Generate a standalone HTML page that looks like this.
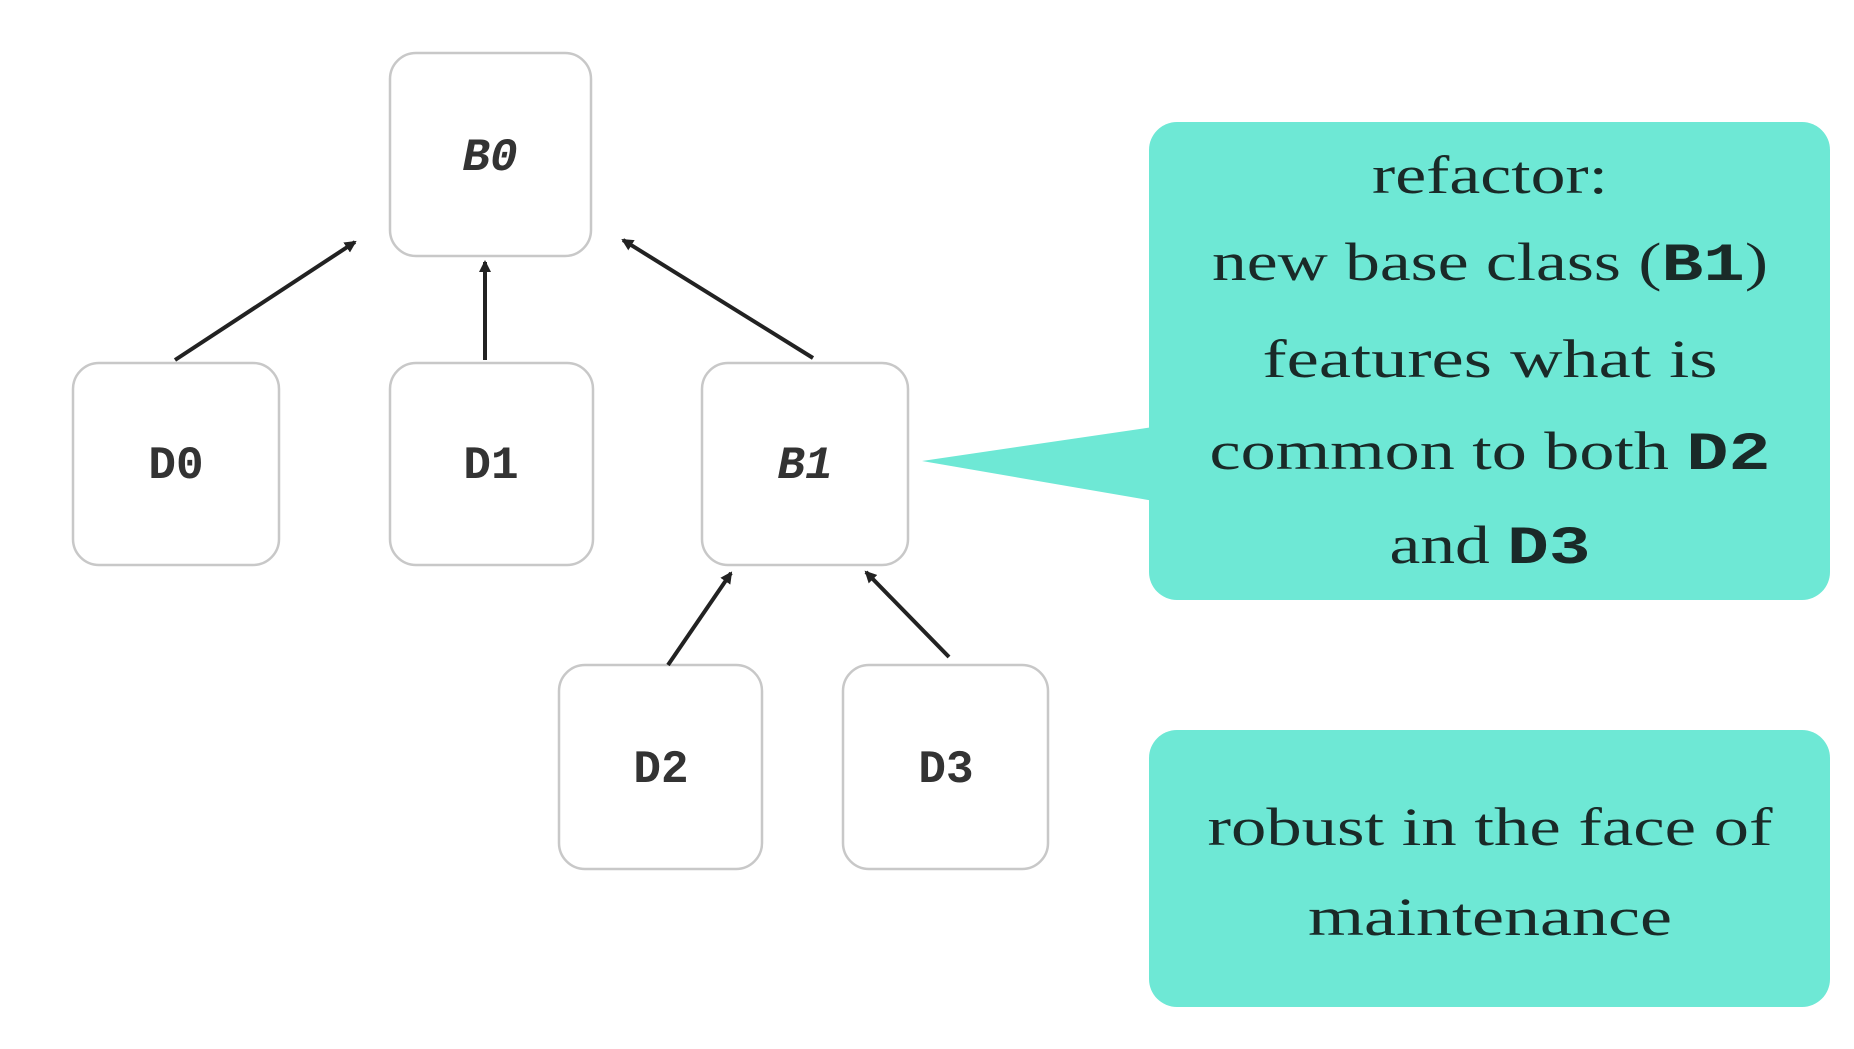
<!DOCTYPE html>
<html><head><meta charset="utf-8"><style>
body{margin:0;background:#fff;width:1854px;height:1044px;overflow:hidden}
</style></head><body>
<svg width="1854" height="1044" viewBox="0 0 1854 1044" xmlns="http://www.w3.org/2000/svg">
<defs><marker id="a" markerWidth="12" markerHeight="12" refX="10" refY="6" orient="auto" markerUnits="userSpaceOnUse"><path d="M0,0 L12,6 L0,12 z" fill="#222"/></marker></defs>
<g fill="#fff" stroke="#c8c8c8" stroke-width="2.5">
<rect x="390" y="53" width="201" height="203" rx="26"/>
<rect x="73" y="363" width="206" height="202" rx="26"/>
<rect x="390" y="363" width="203" height="202" rx="26"/>
<rect x="702" y="363" width="206" height="202" rx="26"/>
<rect x="559" y="665" width="203" height="204" rx="26"/>
<rect x="843" y="665" width="205" height="204" rx="26"/>
</g>
<g stroke="#222" stroke-width="4" marker-end="url(#a)">
<line x1="175" y1="360" x2="355" y2="242"/>
<line x1="485" y1="360" x2="485" y2="262"/>
<line x1="813" y1="358" x2="623" y2="240"/>
<line x1="668" y1="665" x2="731" y2="573"/>
<line x1="949" y1="657" x2="866" y2="572"/>
</g>
<g font-family="Liberation Mono, monospace" font-size="46" fill="#333" text-anchor="middle" font-weight="bold">
<text x="490" y="170" font-style="italic">B0</text>
<text x="176" y="478">D0</text>
<text x="491" y="478">D1</text>
<text x="805" y="478" font-style="italic">B1</text>
<text x="661" y="782">D2</text>
<text x="946" y="782">D3</text>
</g>
<g fill="#6ee8d5">
<rect x="1149" y="122" width="681" height="478" rx="28"/>
<polygon points="922,461 1160,426 1160,502"/>
<rect x="1149" y="730" width="681" height="277" rx="28"/>
</g>
<g font-family="Liberation Serif, serif" font-size="54" fill="#1a2a28" text-anchor="middle" lengthAdjust="spacingAndGlyphs">
<text x="1490" y="193" textLength="236" lengthAdjust="spacingAndGlyphs">refactor:</text>
<text x="1490" y="280" textLength="556" lengthAdjust="spacingAndGlyphs">new base class (<tspan font-family="Liberation Mono, monospace" font-weight="bold">B1</tspan>)</text>
<text x="1490" y="377" textLength="455" lengthAdjust="spacingAndGlyphs">features what is</text>
<text x="1490" y="469" textLength="561" lengthAdjust="spacingAndGlyphs">common to both <tspan font-family="Liberation Mono, monospace" font-weight="bold">D2</tspan></text>
<text x="1490" y="563" textLength="201" lengthAdjust="spacingAndGlyphs">and <tspan font-family="Liberation Mono, monospace" font-weight="bold">D3</tspan></text>
<text x="1490" y="845" textLength="565" lengthAdjust="spacingAndGlyphs">robust in the face of</text>
<text x="1490" y="935" textLength="364" lengthAdjust="spacingAndGlyphs">maintenance</text>
</g>
</svg>
</body></html>
